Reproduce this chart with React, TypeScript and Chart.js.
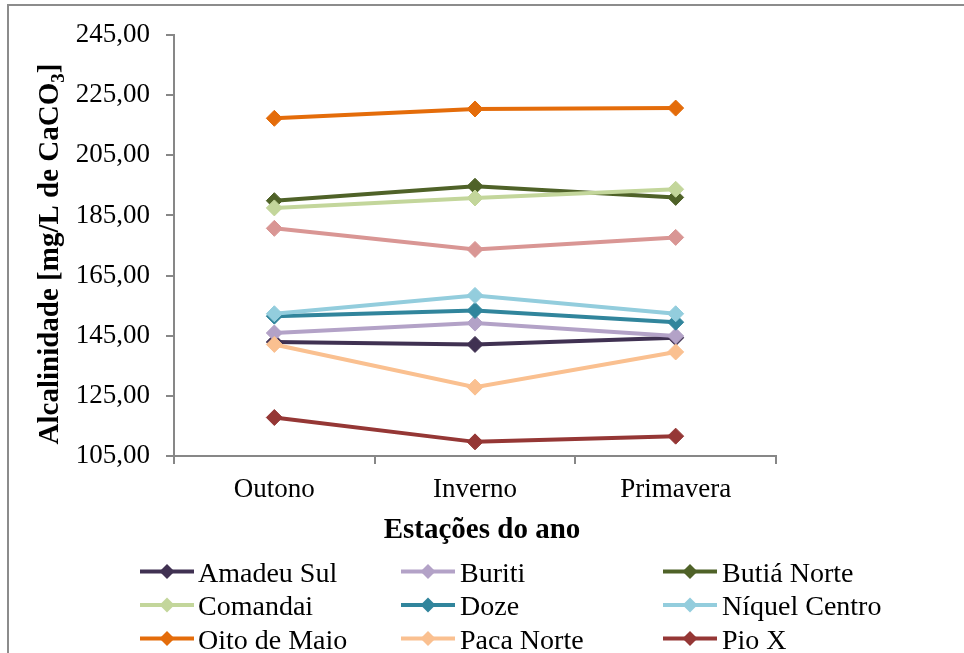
import React, { useEffect, useRef } from 'react';
import { Chart, registerables } from 'chart.js';

Chart.register(...registerables);

// ---- data ----
const categories = ['Outono', 'Inverno', 'Primavera'];
const seriesNames = [
  'Amadeu Sul', 'Buriti', 'Butiá Norte',
  'Comandai', 'Doze', 'Níquel Centro',
  'Oito de Maio', 'Paca Norte', 'Pio X',
  'Ponto 10',
];
const amadeuSul = [142.9, 142.1, 144.3];
const buriti = [145.9, 149.2, 144.9];
const butiaNorte = [189.9, 194.7, 191.0];
const comandai = [187.5, 190.8, 193.7];
const doze = [151.5, 153.4, 149.5];
const niquelCentro = [152.3, 158.4, 152.3];
const oitoDeMaio = [217.3, 220.4, 220.7];
const pacaNorte = [142.1, 127.9, 139.6];
const pioX = [117.8, 109.7, 111.6];
const ponto10 = [180.7, 173.7, 177.7];
const seriesValues = [amadeuSul, buriti, butiaNorte, comandai, doze, niquelCentro, oitoDeMaio, pacaNorte, pioX, ponto10];

const Y_MIN = 105;
const Y_MAX = 245;
const Y_STEP = 20;

const xTitle = 'Estações do ano';
const yTitleMain = 'Alcalinidade [mg/L de CaCO';
const yTitleSub = '3';
const yTitleEnd = ']';

// ---- styles ----
const seriesColors = [
  '#403152', '#B3A2C7', '#4F6228',
  '#C3D69B', '#31859C', '#93CDDD',
  '#E46C0A', '#FAC090', '#953735',
  '#D99694',
];
const FONT = "'Liberation Serif', 'Times New Roman', serif";
const AXIS_GRAY = '#878787';
const W = 964;
const H = 700;

const decorPlugin = {
  id: 'decor',
  beforeDraw(chart: any) {
    const ctx = chart.ctx;
    ctx.save();
    ctx.fillStyle = '#ffffff';
    ctx.fillRect(0, 0, chart.width, chart.height);
    ctx.strokeStyle = '#8c8c8c';
    ctx.lineWidth = 2;
    ctx.strokeRect(8, 5, 1200, 1200);
    ctx.restore();
  },
  afterDraw(chart: any) {
    const ctx = chart.ctx;
    ctx.save();
    ctx.fillStyle = '#000';
    // X title
    ctx.font = `bold 29px ${FONT}`;
    ctx.textAlign = 'center';
    ctx.textBaseline = 'alphabetic';
    ctx.fillText(xTitle, 482, 538);

    // Y title (rotated with subscript)
    ctx.translate(58, 254);
    ctx.rotate(-Math.PI / 2);
    const big = `bold 29px ${FONT}`;
    const small = `bold 19px ${FONT}`;
    ctx.font = big;
    const w1 = ctx.measureText(yTitleMain).width;
    const w3 = ctx.measureText(yTitleEnd).width;
    ctx.font = small;
    const w2 = ctx.measureText(yTitleSub).width;
    let x = -(w1 + w2 + w3) / 2;
    ctx.textAlign = 'left';
    ctx.font = big;
    ctx.fillText(yTitleMain, x, 0);
    x += w1;
    ctx.font = small;
    ctx.fillText(yTitleSub, x, 6);
    x += w2;
    ctx.font = big;
    ctx.fillText(yTitleEnd, x, 0);
    ctx.restore();

    // Legend (3 columns grid)
    const cols = [
      { line: 140, text: 198 },
      { line: 401, text: 460 },
      { line: 663, text: 722 },
    ];
    const rowY0 = 571.5;
    const rowStep = 33.5;
    ctx.save();
    ctx.font = `28px ${FONT}`;
    ctx.textAlign = 'left';
    ctx.textBaseline = 'alphabetic';
    chart.data.datasets.forEach((ds: any, i: number) => {
      const c = cols[i % 3];
      const y = rowY0 + Math.floor(i / 3) * rowStep;
      const color = ds.borderColor;
      ctx.strokeStyle = color;
      ctx.lineWidth = 4;
      ctx.beginPath();
      ctx.moveTo(c.line, y);
      ctx.lineTo(c.line + 54, y);
      ctx.stroke();
      const cx = c.line + 27;
      const r = 7.5;
      ctx.fillStyle = color;
      ctx.beginPath();
      ctx.moveTo(cx - r, y);
      ctx.lineTo(cx, y - r);
      ctx.lineTo(cx + r, y);
      ctx.lineTo(cx, y + r);
      ctx.closePath();
      ctx.fill();
      ctx.fillStyle = '#000';
      ctx.fillText(ds.label, c.text, y + 10);
    });
    ctx.restore();
  },
};

export default function App() {
  const canvasRef = useRef<HTMLCanvasElement | null>(null);

  useEffect(() => {
    const canvas = canvasRef.current;
    if (!canvas) return;
    const n = seriesNames.length;
    const chart = new Chart(canvas, {
      type: 'line',
      data: {
        labels: categories,
        datasets: seriesNames.map((name, i) => ({
          label: name,
          data: seriesValues[i],
          borderColor: seriesColors[i],
          backgroundColor: seriesColors[i],
          pointBackgroundColor: seriesColors[i],
          pointBorderColor: seriesColors[i],
          borderWidth: 4,
          pointStyle: 'rectRot',
          pointRadius: 8,
          pointBorderWidth: 1,
          tension: 0,
          fill: false,
          order: n - 1 - i,
        })),
      },
      options: {
        responsive: false,
        animation: false,
        devicePixelRatio: 1,
        layout: { padding: { left: 0, right: W - 776, top: 35, bottom: 0 } },
        plugins: {
          legend: { display: false },
          title: { display: false },
          tooltip: { enabled: false },
        },
        scales: {
          x: {
            type: 'category',
            offset: true,
            grid: {
              offset: true,
              drawOnChartArea: false,
              drawTicks: true,
              tickLength: 8,
              color: AXIS_GRAY,
              lineWidth: 2,
            },
            border: { display: true, color: AXIS_GRAY, width: 2 },
            ticks: {
              color: '#000',
              font: { family: FONT, size: 27 },
              padding: 10,
              maxRotation: 0,
            },
            afterFit: (scale: any) => {
              scale.height = H - 456;
            },
          },
          y: {
            type: 'linear',
            min: Y_MIN,
            max: Y_MAX,
            ticks: {
              stepSize: Y_STEP,
              color: '#000',
              font: { family: FONT, size: 27 },
              padding: 16,
              callback: (v: any) => Number(v).toFixed(2).replace('.', ','),
            },
            grid: {
              drawOnChartArea: false,
              drawTicks: true,
              tickLength: 8,
              color: AXIS_GRAY,
              lineWidth: 2,
            },
            border: { display: true, color: AXIS_GRAY, width: 2 },
            afterFit: (scale: any) => {
              scale.width = 174;
            },
          },
        },
      },
      plugins: [decorPlugin],
    } as any);
    return () => chart.destroy();
  }, []);

  return (
    <div style={{ position: 'absolute', left: 0, top: 0, width: W, height: 653, overflow: 'hidden', background: '#fff' }}>
      <canvas ref={canvasRef} width={W} height={H} style={{ display: 'block', width: W, height: H }} />
    </div>
  );
}
